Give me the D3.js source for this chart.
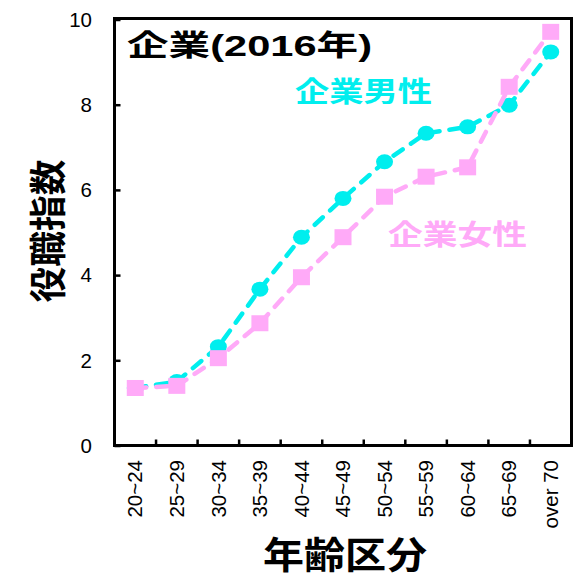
<!DOCTYPE html>
<html>
<head>
<meta charset="utf-8">
<script src="https://cdn.jsdelivr.net/npm/d3@7"></script>
<style>
  html, body { margin: 0; padding: 0; background: #fff; }
  svg { display: block; }
  text { font-family: "Liberation Sans", Arial, "Noto Sans CJK JP", sans-serif; }
</style>
</head>
<body>
<svg id="chart" width="575" height="577"></svg>
<script>
const categories = ["20~24","25~29","30~34","35~39","40~44","45~49","50~54","55~59","60~64","65~69","over 70"];
const menValues   = [1.35, 1.50, 2.32, 3.67, 4.89, 5.80, 6.66, 7.33, 7.48, 7.99, 9.24];
const womenValues = [1.35, 1.40, 2.05, 2.87, 3.95, 4.89, 5.84, 6.31, 6.53, 8.42, 9.71];
const yTicks = [0, 2, 4, 6, 8, 10];
const titleText = "企業(2016年)";
const menLabel = "企業男性";
const womenLabel = "企業女性";
const xAxisTitle = "年齢区分";
const yAxisTitle = "役職指数";

const menColor = "#00eeee";
const womenColor = "#ffaaf8";

const svg = d3.select("#chart");
const plotL = 114.5, plotR = 571.5, plotT = 19.5, plotB = 445.5;

const x = d3.scaleBand().domain(categories).range([plotL, plotR]).padding(0);
const y = d3.scaleLinear().domain([0, 10]).range([plotB, plotT]);

// Frame
svg.append("rect")
  .attr("x", plotL).attr("y", plotT - 1)
  .attr("width", plotR - plotL).attr("height", plotB - plotT + 1)
  .attr("fill", "none").attr("stroke", "#000").attr("stroke-width", 3);

// Y ticks (inward)
const yAxis = d3.axisRight(y).tickValues(yTicks).tickSize(6).tickFormat("");
const gy = svg.append("g").attr("transform", `translate(${plotL},0)`).call(yAxis);
gy.select(".domain").remove();
gy.selectAll("line").attr("stroke", "#000").attr("stroke-width", 2.5);

// Y tick labels
svg.append("g").selectAll("text").data(yTicks).join("text")
  .attr("x", 92).attr("y", d => y(d)).attr("dy", "0.36em")
  .attr("text-anchor", "end").attr("font-size", 20.5).attr("fill", "#000")
  .text(d => d);

// X ticks at category boundaries (inward)
const bounds = categories.slice(1).map(c => x(c));
svg.append("g").selectAll("line").data(bounds).join("line")
  .attr("x1", d => d).attr("x2", d => d)
  .attr("y1", plotB).attr("y2", plotB - 6)
  .attr("stroke", "#000").attr("stroke-width", 2.5);

// X tick labels (rotated)
svg.append("g").selectAll("text").data(categories).join("text")
  .attr("transform", d => `translate(${x(d) + x.bandwidth() / 2},460) rotate(-90)`)
  .attr("dy", "0.35em").attr("text-anchor", "end")
  .attr("font-size", 20.5).attr("fill", "#000")
  .text(d => d);

const cx = (d, i) => x(categories[i]) + x.bandwidth() / 2;
const line = d3.line().x((d, i) => x(categories[i]) + x.bandwidth() / 2).y(d => y(d));

// Men series
svg.append("path").datum(menValues)
  .attr("d", line).attr("fill", "none")
  .attr("stroke", menColor).attr("stroke-width", 4.5)
  .attr("stroke-dasharray", "11,10").attr("stroke-linecap", "round");
svg.append("g").selectAll("ellipse").data(menValues).join("ellipse")
  .attr("cx", cx).attr("cy", d => y(d))
  .attr("rx", 8.5).attr("ry", 7.5).attr("fill", menColor);

// Women series
svg.append("path").datum(womenValues)
  .attr("d", line).attr("fill", "none")
  .attr("stroke", womenColor).attr("stroke-width", 4.5)
  .attr("stroke-dasharray", "11,10").attr("stroke-linecap", "round");
svg.append("g").selectAll("rect").data(womenValues).join("rect")
  .attr("x", (d, i) => cx(d, i) - 8.5).attr("y", d => y(d) - 8)
  .attr("width", 17).attr("height", 16).attr("fill", womenColor);

// Title
svg.append("text")
  .attr("x", 127).attr("y", 56)
  .attr("font-size", 29).attr("font-weight", "bold").attr("fill", "#000")
  .attr("textLength", 245).attr("lengthAdjust", "spacingAndGlyphs")
  .text(titleText);

// Series labels
svg.append("text")
  .attr("x", 295).attr("y", 102)
  .attr("font-size", 28).attr("font-weight", "bold").attr("fill", menColor)
  .attr("textLength", 137).attr("lengthAdjust", "spacingAndGlyphs")
  .text(menLabel);
svg.append("text")
  .attr("x", 388).attr("y", 245)
  .attr("font-size", 28).attr("font-weight", "bold").attr("fill", womenColor)
  .attr("textLength", 139).attr("lengthAdjust", "spacingAndGlyphs")
  .text(womenLabel);

// Axis titles
svg.append("text")
  .attr("transform", "translate(48,231) rotate(-90)")
  .attr("dy", "0.38em").attr("text-anchor", "middle")
  .attr("font-size", 37).attr("font-weight", "bold").attr("fill", "#000")
  .attr("textLength", 143).attr("lengthAdjust", "spacingAndGlyphs")
  .text(yAxisTitle);
svg.append("text")
  .attr("x", 345).attr("y", 569).attr("text-anchor", "middle")
  .attr("font-size", 37).attr("font-weight", "bold").attr("fill", "#000")
  .attr("textLength", 164).attr("lengthAdjust", "spacingAndGlyphs")
  .text(xAxisTitle);
</script>
</body>
</html>
